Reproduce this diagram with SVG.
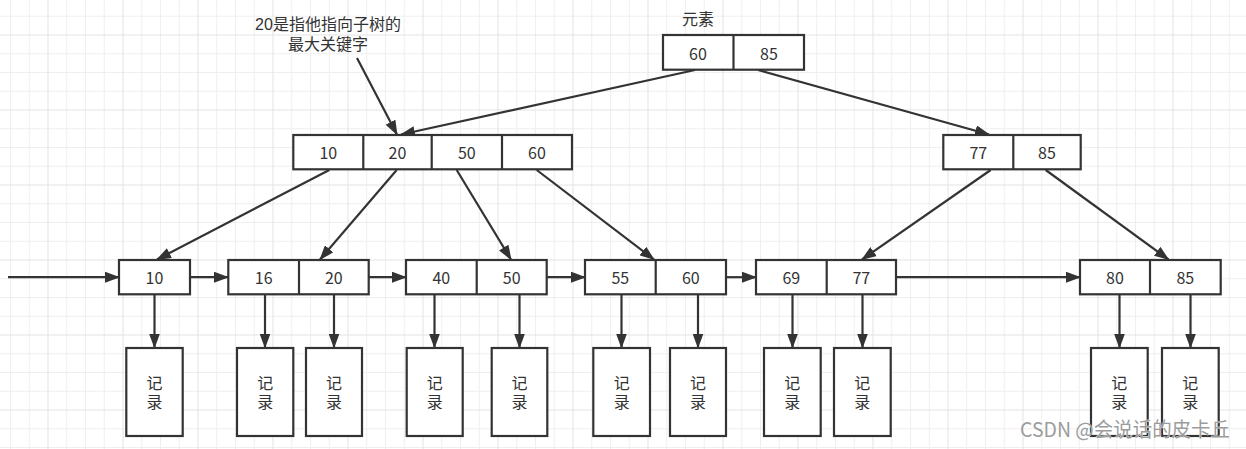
<svg xmlns="http://www.w3.org/2000/svg" width="1246" height="449" viewBox="0 0 1246 449">
  <style>
    .box { fill: #ffffff; stroke: #333333; stroke-width: 2.2; }
    .div { stroke: #333333; stroke-width: 2.2; }
    .t { font-family: "Noto Sans CJK SC", "Noto Sans", "Liberation Sans", sans-serif; font-size: 16px; fill: #333333; text-anchor: middle; }
    .tc { font-family: "Liberation Sans", "Noto Sans CJK SC", sans-serif; font-size: 16px; fill: #333333; text-anchor: middle; }
    .edge { fill: none; stroke: #333333; stroke-width: 2.2; marker-end: url(#arrow); }
    .wm { font-family: "Noto Sans CJK SC", "Noto Sans", sans-serif; font-size: 20px; fill: #9c9c9c; stroke: #ffffff; stroke-width: 0.6; paint-order: stroke; }
  </style>
  <defs>
    <pattern id="grid" x="48" y="35" width="75" height="75" patternUnits="userSpaceOnUse">
      <rect x="0" y="0" width="75" height="75" fill="#ffffff"/>
      <g fill="#efefef">
        <rect x="18.25" y="0" width="1" height="75"/>
        <rect x="37" y="0" width="1" height="75"/>
        <rect x="55.75" y="0" width="1" height="75"/>
        <rect x="0" y="18.25" width="75" height="1"/>
        <rect x="0" y="37" width="75" height="1"/>
        <rect x="0" y="55.75" width="75" height="1"/>
      </g>
      <g fill="#e3e3e3">
        <rect x="-0.5" y="0" width="1" height="75"/>
        <rect x="74.5" y="0" width="1" height="75"/>
        <rect x="0" y="-0.5" width="75" height="1"/>
        <rect x="0" y="74.5" width="75" height="1"/>
      </g>
    </pattern>
    <marker id="arrow" markerUnits="userSpaceOnUse" markerWidth="15" markerHeight="11" refX="14" refY="5.5" orient="auto">
      <path d="M0,0 L15,5.5 L0,11 Z" fill="#333333"/>
    </marker>
  </defs>

  <rect x="0" y="0" width="1246" height="449" fill="url(#grid)"/>

  <g id="connectors">
    <line class="edge" x1="357" y1="58" x2="397" y2="134.5"/>
    <line class="edge" x1="695" y1="70" x2="401" y2="134.5"/>
    <line class="edge" x1="758" y1="70" x2="989" y2="134.5"/>
    <line class="edge" x1="329.3" y1="170" x2="157" y2="259.5"/>
    <line class="edge" x1="396.7" y1="170" x2="320" y2="259.5"/>
    <line class="edge" x1="456.7" y1="170" x2="511" y2="259.5"/>
    <line class="edge" x1="536.7" y1="170" x2="654" y2="259.5"/>
    <line class="edge" x1="990.7" y1="170" x2="862" y2="259.5"/>
    <line class="edge" x1="1045.7" y1="170" x2="1168.5" y2="259.5"/>
    <line class="edge" x1="8" y1="277.2" x2="119" y2="277.2"/>
    <line class="edge" x1="190" y1="277.2" x2="228" y2="277.2"/>
    <line class="edge" x1="369" y1="277.2" x2="406" y2="277.2"/>
    <line class="edge" x1="547" y1="277.2" x2="585" y2="277.2"/>
    <line class="edge" x1="726" y1="277.2" x2="756" y2="277.2"/>
    <line class="edge" x1="896" y1="277.2" x2="1080" y2="277.2"/>
    <line class="edge" x1="154.5" y1="294.5" x2="154.5" y2="347.5"/>
    <line class="edge" x1="265" y1="294.5" x2="265" y2="347.5"/>
    <line class="edge" x1="334" y1="294.5" x2="334" y2="347.5"/>
    <line class="edge" x1="434.5" y1="294.5" x2="434.5" y2="347.5"/>
    <line class="edge" x1="519.5" y1="294.5" x2="519.5" y2="347.5"/>
    <line class="edge" x1="621.5" y1="294.5" x2="621.5" y2="347.5"/>
    <line class="edge" x1="698" y1="294.5" x2="698" y2="347.5"/>
    <line class="edge" x1="792.5" y1="294.5" x2="792.5" y2="347.5"/>
    <line class="edge" x1="862.5" y1="294.5" x2="862.5" y2="347.5"/>
    <line class="edge" x1="1119.5" y1="294.5" x2="1119.5" y2="347.5"/>
    <line class="edge" x1="1190.5" y1="294.5" x2="1190.5" y2="347.5"/>
  </g>

  <g id="annotation">
    <text class="tc" x="328" y="30">20是指他指向子树的<tspan x="328" dy="19.5">最大关键字</tspan></text>
  </g>

  <g id="label-element">
    <text class="t" x="698" y="25">元素</text>
  </g>

  <g id="root">
    <rect class="box" x="663" y="35" width="141" height="34.7"/>
    <line class="div" x1="733.5" y1="35" x2="733.5" y2="69.7"/>
    <text class="t" x="698" y="59.5">60</text>
    <text class="t" x="769" y="59.5">85</text>
  </g>

  <g id="inner-left">
    <rect class="box" x="293.3" y="135" width="278.7" height="34.3"/>
    <line class="div" x1="363.3" y1="135" x2="363.3" y2="169.3"/>
    <line class="div" x1="431.7" y1="135" x2="431.7" y2="169.3"/>
    <line class="div" x1="502" y1="135" x2="502" y2="169.3"/>
    <text class="t" x="328.3" y="159.3">10</text>
    <text class="t" x="397.5" y="159.3">20</text>
    <text class="t" x="466.8" y="159.3">50</text>
    <text class="t" x="537" y="159.3">60</text>
  </g>

  <g id="inner-right">
    <rect class="box" x="943.3" y="135" width="137.4" height="34.3"/>
    <line class="div" x1="1013.3" y1="135" x2="1013.3" y2="169.3"/>
    <text class="t" x="978.3" y="159.3">77</text>
    <text class="t" x="1047" y="159.3">85</text>
  </g>

  <g id="leaf-10">
    <rect class="box" x="119" y="260" width="71" height="34.3"/>
    <text class="t" x="154.5" y="284.2">10</text>
  </g>
  <g id="leaf-16-20">
    <rect class="box" x="228.3" y="260" width="140.4" height="34.3"/>
    <line class="div" x1="299" y1="260" x2="299" y2="294.3"/>
    <text class="t" x="263.7" y="284.2">16</text>
    <text class="t" x="333.8" y="284.2">20</text>
  </g>
  <g id="leaf-40-50">
    <rect class="box" x="406" y="260" width="140.7" height="34.3"/>
    <line class="div" x1="476.7" y1="260" x2="476.7" y2="294.3"/>
    <text class="t" x="441.3" y="284.2">40</text>
    <text class="t" x="511.7" y="284.2">50</text>
  </g>
  <g id="leaf-55-60">
    <rect class="box" x="585" y="260" width="141" height="34.3"/>
    <line class="div" x1="655.7" y1="260" x2="655.7" y2="294.3"/>
    <text class="t" x="620.3" y="284.2">55</text>
    <text class="t" x="690.8" y="284.2">60</text>
  </g>
  <g id="leaf-69-77">
    <rect class="box" x="756" y="260" width="140" height="34.3"/>
    <line class="div" x1="826.7" y1="260" x2="826.7" y2="294.3"/>
    <text class="t" x="791.3" y="284.2">69</text>
    <text class="t" x="861.3" y="284.2">77</text>
  </g>
  <g id="leaf-80-85">
    <rect class="box" x="1080" y="260" width="140.7" height="34.3"/>
    <line class="div" x1="1150" y1="260" x2="1150" y2="294.3"/>
    <text class="t" x="1115" y="284.2">80</text>
    <text class="t" x="1185.3" y="284.2">85</text>
  </g>

  <g id="rec-10"><rect class="box" x="126.3" y="348" width="56.4" height="88"/><text class="tc" x="154.5" y="388.5">记<tspan x="154.5" dy="19.5">录</tspan></text></g>
  <g id="rec-16"><rect class="box" x="237" y="348" width="56.3" height="88"/><text class="tc" x="265.2" y="388.5">记<tspan x="265.2" dy="19.5">录</tspan></text></g>
  <g id="rec-20"><rect class="box" x="306" y="348" width="56" height="88"/><text class="tc" x="334" y="388.5">记<tspan x="334" dy="19.5">录</tspan></text></g>
  <g id="rec-40"><rect class="box" x="406.7" y="348" width="56" height="88"/><text class="tc" x="434.7" y="388.5">记<tspan x="434.7" dy="19.5">录</tspan></text></g>
  <g id="rec-50"><rect class="box" x="491.7" y="348" width="55.6" height="88"/><text class="tc" x="519.5" y="388.5">记<tspan x="519.5" dy="19.5">录</tspan></text></g>
  <g id="rec-55"><rect class="box" x="593.3" y="348" width="56.7" height="88"/><text class="tc" x="621.7" y="388.5">记<tspan x="621.7" dy="19.5">录</tspan></text></g>
  <g id="rec-60"><rect class="box" x="670" y="348" width="56" height="88"/><text class="tc" x="698" y="388.5">记<tspan x="698" dy="19.5">录</tspan></text></g>
  <g id="rec-69"><rect class="box" x="764" y="348" width="56.7" height="88"/><text class="tc" x="792.3" y="388.5">记<tspan x="792.3" dy="19.5">录</tspan></text></g>
  <g id="rec-77"><rect class="box" x="834" y="348" width="56.7" height="88"/><text class="tc" x="862.3" y="388.5">记<tspan x="862.3" dy="19.5">录</tspan></text></g>
  <g id="rec-80"><rect class="box" x="1091" y="348" width="56.7" height="88"/><text class="tc" x="1119.3" y="388.5">记<tspan x="1119.3" dy="19.5">录</tspan></text></g>
  <g id="rec-85"><rect class="box" x="1162" y="348" width="56.7" height="88"/><text class="tc" x="1190.3" y="388.5">记<tspan x="1190.3" dy="19.5">录</tspan></text></g>

  <g id="watermark">
    <text class="wm" x="1020" y="437" textLength="210" lengthAdjust="spacingAndGlyphs">CSDN @会说话的皮卡丘</text>
  </g>
</svg>
